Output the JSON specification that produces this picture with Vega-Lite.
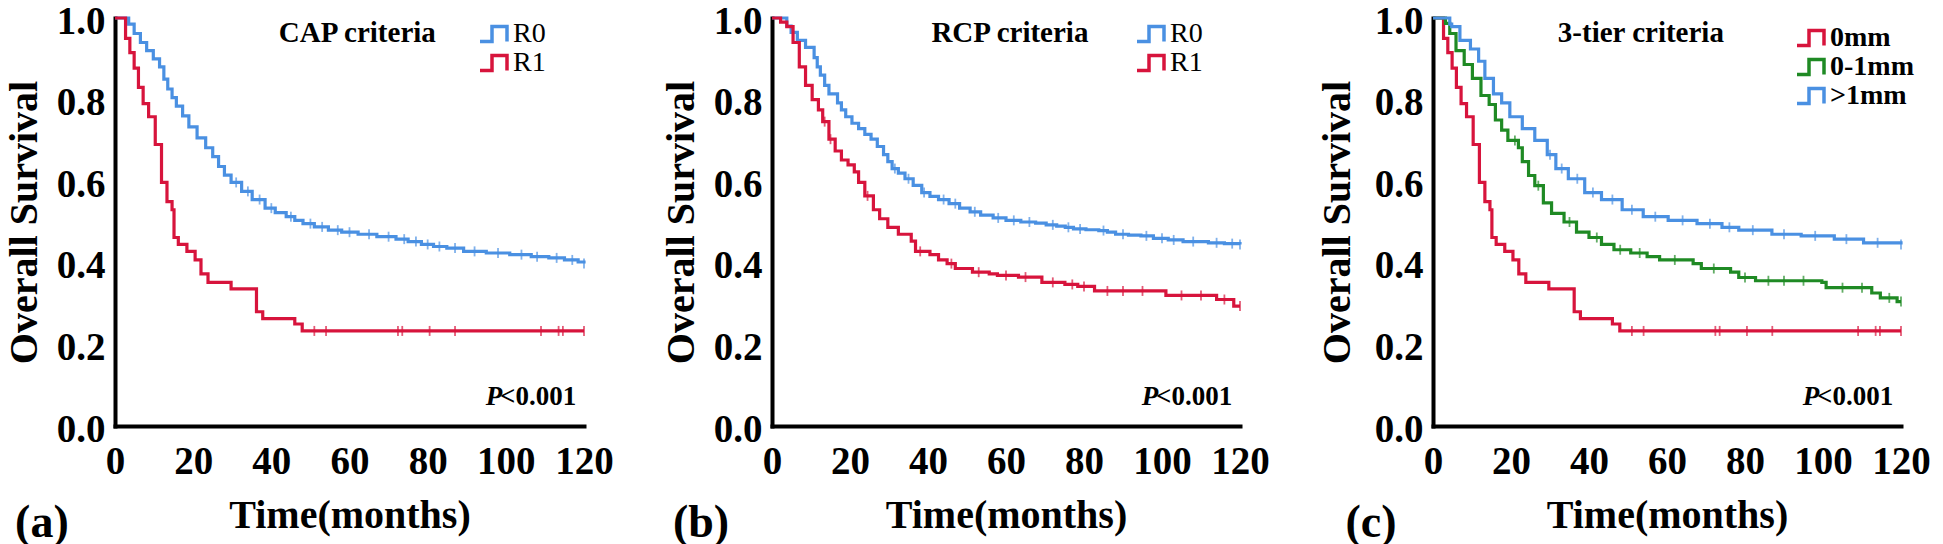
{
  "$schema": "https://vega.github.io/schema/vega-lite/v6.json",
  "background": "white",
  "padding": {"left": 4, "top": 2, "right": 0, "bottom": 0},
  "spacing": 47,
  "datasets": {
    "curves": [
      {"p":"a","g":"R0","t":0,"s":1.0},{"p":"a","g":"R0","t":3.5,"s":0.985},{"p":"a","g":"R0","t":4.9,"s":0.962},{"p":"a","g":"R0","t":6.5,"s":0.94},{"p":"a","g":"R0","t":8.1,"s":0.92},{"p":"a","g":"R0","t":9.8,"s":0.9},{"p":"a","g":"R0","t":11.4,"s":0.88},{"p":"a","g":"R0","t":12.5,"s":0.85},{"p":"a","g":"R0","t":13.5,"s":0.826},{"p":"a","g":"R0","t":14.6,"s":0.805},{"p":"a","g":"R0","t":15.7,"s":0.784},{"p":"a","g":"R0","t":17.3,"s":0.76},{"p":"a","g":"R0","t":18.9,"s":0.733},{"p":"a","g":"R0","t":21,"s":0.706},{"p":"a","g":"R0","t":23.2,"s":0.682},{"p":"a","g":"R0","t":25,"s":0.66},{"p":"a","g":"R0","t":26.5,"s":0.636},{"p":"a","g":"R0","t":28,"s":0.615},{"p":"a","g":"R0","t":29.7,"s":0.597},{"p":"a","g":"R0","t":32.4,"s":0.575},{"p":"a","g":"R0","t":35.1,"s":0.555},{"p":"a","g":"R0","t":38.4,"s":0.534},{"p":"a","g":"R0","t":41,"s":0.523},{"p":"a","g":"R0","t":43.8,"s":0.513},{"p":"a","g":"R0","t":46,"s":0.504},{"p":"a","g":"R0","t":48.1,"s":0.496},{"p":"a","g":"R0","t":51,"s":0.488},{"p":"a","g":"R0","t":54.6,"s":0.48},{"p":"a","g":"R0","t":58,"s":0.475},{"p":"a","g":"R0","t":62.2,"s":0.47},{"p":"a","g":"R0","t":67,"s":0.464},{"p":"a","g":"R0","t":71.9,"s":0.458},{"p":"a","g":"R0","t":75,"s":0.452},{"p":"a","g":"R0","t":78.4,"s":0.445},{"p":"a","g":"R0","t":81.5,"s":0.44},{"p":"a","g":"R0","t":84.9,"s":0.436},{"p":"a","g":"R0","t":89.2,"s":0.428},{"p":"a","g":"R0","t":95,"s":0.424},{"p":"a","g":"R0","t":101,"s":0.42},{"p":"a","g":"R0","t":106.5,"s":0.415},{"p":"a","g":"R0","t":111,"s":0.412},{"p":"a","g":"R0","t":115,"s":0.407},{"p":"a","g":"R0","t":118.5,"s":0.402},{"p":"a","g":"R0","t":120,"s":0.398},
      {"p":"a","g":"R1","t":0,"s":1.0},{"p":"a","g":"R1","t":2.7,"s":0.95},{"p":"a","g":"R1","t":3.8,"s":0.915},{"p":"a","g":"R1","t":4.9,"s":0.877},{"p":"a","g":"R1","t":6,"s":0.83},{"p":"a","g":"R1","t":7.2,"s":0.79},{"p":"a","g":"R1","t":8.6,"s":0.758},{"p":"a","g":"R1","t":10.3,"s":0.69},{"p":"a","g":"R1","t":11.9,"s":0.597},{"p":"a","g":"R1","t":13.3,"s":0.55},{"p":"a","g":"R1","t":14.6,"s":0.53},{"p":"a","g":"R1","t":15.1,"s":0.462},{"p":"a","g":"R1","t":16.2,"s":0.445},{"p":"a","g":"R1","t":18.4,"s":0.428},{"p":"a","g":"R1","t":20.5,"s":0.407},{"p":"a","g":"R1","t":22,"s":0.373},{"p":"a","g":"R1","t":23.8,"s":0.352},{"p":"a","g":"R1","t":29.7,"s":0.336},{"p":"a","g":"R1","t":36.2,"s":0.28},{"p":"a","g":"R1","t":37.8,"s":0.263},{"p":"a","g":"R1","t":46,"s":0.25},{"p":"a","g":"R1","t":47.9,"s":0.233},{"p":"a","g":"R1","t":120,"s":0.233},
      {"p":"b","g":"R0","t":0,"s":1.0},{"p":"b","g":"R0","t":3.8,"s":0.98},{"p":"b","g":"R0","t":4.9,"s":0.965},{"p":"b","g":"R0","t":6.5,"s":0.945},{"p":"b","g":"R0","t":8.6,"s":0.928},{"p":"b","g":"R0","t":10.8,"s":0.903},{"p":"b","g":"R0","t":11.6,"s":0.88},{"p":"b","g":"R0","t":12.4,"s":0.86},{"p":"b","g":"R0","t":13.5,"s":0.835},{"p":"b","g":"R0","t":14.6,"s":0.814},{"p":"b","g":"R0","t":16.8,"s":0.792},{"p":"b","g":"R0","t":17.8,"s":0.775},{"p":"b","g":"R0","t":18.9,"s":0.758},{"p":"b","g":"R0","t":20.5,"s":0.742},{"p":"b","g":"R0","t":22.2,"s":0.729},{"p":"b","g":"R0","t":23.8,"s":0.715},{"p":"b","g":"R0","t":25.4,"s":0.703},{"p":"b","g":"R0","t":27,"s":0.685},{"p":"b","g":"R0","t":28.6,"s":0.665},{"p":"b","g":"R0","t":29.7,"s":0.648},{"p":"b","g":"R0","t":30.8,"s":0.631},{"p":"b","g":"R0","t":32.4,"s":0.62},{"p":"b","g":"R0","t":34.1,"s":0.606},{"p":"b","g":"R0","t":36.2,"s":0.59},{"p":"b","g":"R0","t":38.4,"s":0.572},{"p":"b","g":"R0","t":40.5,"s":0.563},{"p":"b","g":"R0","t":42.7,"s":0.555},{"p":"b","g":"R0","t":45.4,"s":0.545},{"p":"b","g":"R0","t":48.1,"s":0.534},{"p":"b","g":"R0","t":50.8,"s":0.525},{"p":"b","g":"R0","t":53.5,"s":0.517},{"p":"b","g":"R0","t":56.7,"s":0.51},{"p":"b","g":"R0","t":60,"s":0.504},{"p":"b","g":"R0","t":63.8,"s":0.5},{"p":"b","g":"R0","t":67.6,"s":0.497},{"p":"b","g":"R0","t":70.3,"s":0.493},{"p":"b","g":"R0","t":73,"s":0.49},{"p":"b","g":"R0","t":75.2,"s":0.487},{"p":"b","g":"R0","t":77.3,"s":0.483},{"p":"b","g":"R0","t":80.5,"s":0.481},{"p":"b","g":"R0","t":83.8,"s":0.479},{"p":"b","g":"R0","t":86,"s":0.475},{"p":"b","g":"R0","t":88.1,"s":0.47},{"p":"b","g":"R0","t":91.4,"s":0.468},{"p":"b","g":"R0","t":94.6,"s":0.466},{"p":"b","g":"R0","t":97.8,"s":0.46},{"p":"b","g":"R0","t":101.6,"s":0.456},{"p":"b","g":"R0","t":105.4,"s":0.452},{"p":"b","g":"R0","t":111.9,"s":0.449},{"p":"b","g":"R0","t":116,"s":0.447},{"p":"b","g":"R0","t":120,"s":0.445},
      {"p":"b","g":"R1","t":0,"s":1.0},{"p":"b","g":"R1","t":2.2,"s":0.99},{"p":"b","g":"R1","t":3.8,"s":0.979},{"p":"b","g":"R1","t":5.4,"s":0.94},{"p":"b","g":"R1","t":7,"s":0.88},{"p":"b","g":"R1","t":8.6,"s":0.835},{"p":"b","g":"R1","t":10.3,"s":0.8},{"p":"b","g":"R1","t":11.9,"s":0.775},{"p":"b","g":"R1","t":13,"s":0.746},{"p":"b","g":"R1","t":14.6,"s":0.703},{"p":"b","g":"R1","t":16.2,"s":0.674},{"p":"b","g":"R1","t":17.8,"s":0.652},{"p":"b","g":"R1","t":19.5,"s":0.64},{"p":"b","g":"R1","t":21.1,"s":0.623},{"p":"b","g":"R1","t":22.2,"s":0.597},{"p":"b","g":"R1","t":23.8,"s":0.564},{"p":"b","g":"R1","t":26,"s":0.53},{"p":"b","g":"R1","t":27.6,"s":0.508},{"p":"b","g":"R1","t":29.7,"s":0.487},{"p":"b","g":"R1","t":32.4,"s":0.47},{"p":"b","g":"R1","t":35.7,"s":0.453},{"p":"b","g":"R1","t":36.8,"s":0.428},{"p":"b","g":"R1","t":40.5,"s":0.42},{"p":"b","g":"R1","t":42.7,"s":0.407},{"p":"b","g":"R1","t":44.9,"s":0.398},{"p":"b","g":"R1","t":47,"s":0.386},{"p":"b","g":"R1","t":51.4,"s":0.377},{"p":"b","g":"R1","t":55.7,"s":0.373},{"p":"b","g":"R1","t":57.8,"s":0.369},{"p":"b","g":"R1","t":63.2,"s":0.365},{"p":"b","g":"R1","t":69.2,"s":0.352},{"p":"b","g":"R1","t":75.1,"s":0.347},{"p":"b","g":"R1","t":78.4,"s":0.342},{"p":"b","g":"R1","t":82.7,"s":0.331},{"p":"b","g":"R1","t":101,"s":0.32},{"p":"b","g":"R1","t":114,"s":0.31},{"p":"b","g":"R1","t":118.4,"s":0.294},{"p":"b","g":"R1","t":120,"s":0.294},
      {"p":"c","g":"0mm","t":0,"s":1.0},{"p":"c","g":"0mm","t":2.7,"s":0.95},{"p":"c","g":"0mm","t":3.8,"s":0.915},{"p":"c","g":"0mm","t":4.9,"s":0.877},{"p":"c","g":"0mm","t":6,"s":0.83},{"p":"c","g":"0mm","t":7.2,"s":0.79},{"p":"c","g":"0mm","t":8.6,"s":0.758},{"p":"c","g":"0mm","t":10.3,"s":0.69},{"p":"c","g":"0mm","t":11.9,"s":0.597},{"p":"c","g":"0mm","t":13.3,"s":0.55},{"p":"c","g":"0mm","t":14.6,"s":0.53},{"p":"c","g":"0mm","t":15.1,"s":0.462},{"p":"c","g":"0mm","t":16.2,"s":0.445},{"p":"c","g":"0mm","t":18.4,"s":0.428},{"p":"c","g":"0mm","t":20.5,"s":0.407},{"p":"c","g":"0mm","t":22,"s":0.373},{"p":"c","g":"0mm","t":23.8,"s":0.352},{"p":"c","g":"0mm","t":29.7,"s":0.336},{"p":"c","g":"0mm","t":36.2,"s":0.28},{"p":"c","g":"0mm","t":37.8,"s":0.263},{"p":"c","g":"0mm","t":46,"s":0.25},{"p":"c","g":"0mm","t":47.9,"s":0.233},{"p":"c","g":"0mm","t":120,"s":0.233},
      {"p":"c","g":"0-1mm","t":0,"s":1.0},{"p":"c","g":"0-1mm","t":3.2,"s":0.987},{"p":"c","g":"0-1mm","t":4.3,"s":0.962},{"p":"c","g":"0-1mm","t":5.9,"s":0.92},{"p":"c","g":"0-1mm","t":8,"s":0.886},{"p":"c","g":"0-1mm","t":10.1,"s":0.852},{"p":"c","g":"0-1mm","t":12.3,"s":0.81},{"p":"c","g":"0-1mm","t":14.4,"s":0.788},{"p":"c","g":"0-1mm","t":16,"s":0.75},{"p":"c","g":"0-1mm","t":17.6,"s":0.725},{"p":"c","g":"0-1mm","t":19.2,"s":0.7},{"p":"c","g":"0-1mm","t":21.9,"s":0.682},{"p":"c","g":"0-1mm","t":22.9,"s":0.648},{"p":"c","g":"0-1mm","t":24.5,"s":0.614},{"p":"c","g":"0-1mm","t":26.1,"s":0.589},{"p":"c","g":"0-1mm","t":28.3,"s":0.547},{"p":"c","g":"0-1mm","t":30.4,"s":0.521},{"p":"c","g":"0-1mm","t":33.6,"s":0.5},{"p":"c","g":"0-1mm","t":36.8,"s":0.475},{"p":"c","g":"0-1mm","t":40,"s":0.462},{"p":"c","g":"0-1mm","t":43.2,"s":0.445},{"p":"c","g":"0-1mm","t":46.4,"s":0.432},{"p":"c","g":"0-1mm","t":50.7,"s":0.424},{"p":"c","g":"0-1mm","t":54.9,"s":0.415},{"p":"c","g":"0-1mm","t":58.1,"s":0.407},{"p":"c","g":"0-1mm","t":66.7,"s":0.398},{"p":"c","g":"0-1mm","t":68.8,"s":0.386},{"p":"c","g":"0-1mm","t":76.3,"s":0.377},{"p":"c","g":"0-1mm","t":78.4,"s":0.364},{"p":"c","g":"0-1mm","t":82.7,"s":0.356},{"p":"c","g":"0-1mm","t":99.7,"s":0.352},{"p":"c","g":"0-1mm","t":100.8,"s":0.339},{"p":"c","g":"0-1mm","t":112.5,"s":0.326},{"p":"c","g":"0-1mm","t":114.7,"s":0.314},{"p":"c","g":"0-1mm","t":119,"s":0.305},{"p":"c","g":"0-1mm","t":120,"s":0.305},
      {"p":"c","g":">1mm","t":0,"s":1.0},{"p":"c","g":">1mm","t":4.3,"s":0.985},{"p":"c","g":">1mm","t":4.8,"s":0.979},{"p":"c","g":">1mm","t":6.9,"s":0.945},{"p":"c","g":">1mm","t":9.6,"s":0.924},{"p":"c","g":">1mm","t":11.7,"s":0.894},{"p":"c","g":">1mm","t":13.3,"s":0.852},{"p":"c","g":">1mm","t":15.5,"s":0.814},{"p":"c","g":">1mm","t":17.6,"s":0.792},{"p":"c","g":">1mm","t":19.7,"s":0.758},{"p":"c","g":">1mm","t":22.9,"s":0.729},{"p":"c","g":">1mm","t":26.1,"s":0.7},{"p":"c","g":">1mm","t":29.3,"s":0.665},{"p":"c","g":">1mm","t":31.5,"s":0.631},{"p":"c","g":">1mm","t":34.7,"s":0.606},{"p":"c","g":">1mm","t":38.9,"s":0.572},{"p":"c","g":">1mm","t":43.2,"s":0.555},{"p":"c","g":">1mm","t":48.5,"s":0.53},{"p":"c","g":">1mm","t":53.9,"s":0.513},{"p":"c","g":">1mm","t":60.3,"s":0.504},{"p":"c","g":">1mm","t":67.7,"s":0.496},{"p":"c","g":">1mm","t":74.1,"s":0.487},{"p":"c","g":">1mm","t":78.4,"s":0.48},{"p":"c","g":">1mm","t":86.9,"s":0.47},{"p":"c","g":">1mm","t":94.4,"s":0.466},{"p":"c","g":">1mm","t":102.9,"s":0.458},{"p":"c","g":">1mm","t":110.4,"s":0.449},{"p":"c","g":">1mm","t":120,"s":0.445}
    ],
    "censor": [
      {"p":"a","g":"R1","t":51,"s":0.233},{"p":"a","g":"R1","t":54,"s":0.233},{"p":"a","g":"R1","t":72.4,"s":0.233},{"p":"a","g":"R1","t":73.5,"s":0.233},{"p":"a","g":"R1","t":80.5,"s":0.233},{"p":"a","g":"R1","t":87,"s":0.233},{"p":"a","g":"R1","t":109,"s":0.233},{"p":"a","g":"R1","t":113.5,"s":0.233},{"p":"a","g":"R1","t":114.6,"s":0.233},{"p":"a","g":"R1","t":120,"s":0.233},
      {"p":"a","g":"R0","t":31,"s":0.597},{"p":"a","g":"R0","t":34,"s":0.575},{"p":"a","g":"R0","t":37,"s":0.555},{"p":"a","g":"R0","t":40,"s":0.534},{"p":"a","g":"R0","t":45,"s":0.513},{"p":"a","g":"R0","t":50,"s":0.496},{"p":"a","g":"R0","t":53,"s":0.488},{"p":"a","g":"R0","t":57,"s":0.48},{"p":"a","g":"R0","t":60,"s":0.475},{"p":"a","g":"R0","t":65,"s":0.47},{"p":"a","g":"R0","t":70,"s":0.464},{"p":"a","g":"R0","t":74,"s":0.458},{"p":"a","g":"R0","t":77,"s":0.452},{"p":"a","g":"R0","t":80,"s":0.445},{"p":"a","g":"R0","t":83,"s":0.44},{"p":"a","g":"R0","t":87,"s":0.436},{"p":"a","g":"R0","t":92,"s":0.428},{"p":"a","g":"R0","t":98,"s":0.424},{"p":"a","g":"R0","t":104,"s":0.42},{"p":"a","g":"R0","t":108,"s":0.415},{"p":"a","g":"R0","t":113,"s":0.412},{"p":"a","g":"R0","t":117,"s":0.407},{"p":"a","g":"R0","t":120,"s":0.398},
      {"p":"b","g":"R0","t":31.5,"s":0.631},{"p":"b","g":"R0","t":35,"s":0.606},{"p":"b","g":"R0","t":39,"s":0.572},{"p":"b","g":"R0","t":44,"s":0.555},{"p":"b","g":"R0","t":47,"s":0.545},{"p":"b","g":"R0","t":52,"s":0.525},{"p":"b","g":"R0","t":58,"s":0.51},{"p":"b","g":"R0","t":62,"s":0.504},{"p":"b","g":"R0","t":66,"s":0.5},{"p":"b","g":"R0","t":72,"s":0.493},{"p":"b","g":"R0","t":76,"s":0.487},{"p":"b","g":"R0","t":79,"s":0.483},{"p":"b","g":"R0","t":85,"s":0.479},{"p":"b","g":"R0","t":90,"s":0.47},{"p":"b","g":"R0","t":96,"s":0.466},{"p":"b","g":"R0","t":100,"s":0.46},{"p":"b","g":"R0","t":103,"s":0.456},{"p":"b","g":"R0","t":108,"s":0.452},{"p":"b","g":"R0","t":114,"s":0.449},{"p":"b","g":"R0","t":118,"s":0.447},{"p":"b","g":"R0","t":120,"s":0.445},
      {"p":"b","g":"R1","t":13.5,"s":0.746},{"p":"b","g":"R1","t":15,"s":0.703},{"p":"b","g":"R1","t":24.5,"s":0.564},{"p":"b","g":"R1","t":38,"s":0.428},{"p":"b","g":"R1","t":46,"s":0.398},{"p":"b","g":"R1","t":53,"s":0.377},{"p":"b","g":"R1","t":60,"s":0.369},{"p":"b","g":"R1","t":65,"s":0.365},{"p":"b","g":"R1","t":72,"s":0.352},{"p":"b","g":"R1","t":77,"s":0.347},{"p":"b","g":"R1","t":80,"s":0.342},{"p":"b","g":"R1","t":86,"s":0.331},{"p":"b","g":"R1","t":90,"s":0.331},{"p":"b","g":"R1","t":95,"s":0.331},{"p":"b","g":"R1","t":105,"s":0.32},{"p":"b","g":"R1","t":110,"s":0.32},{"p":"b","g":"R1","t":116,"s":0.31},{"p":"b","g":"R1","t":120,"s":0.294},
      {"p":"c","g":"0mm","t":51,"s":0.233},{"p":"c","g":"0mm","t":54,"s":0.233},{"p":"c","g":"0mm","t":72.4,"s":0.233},{"p":"c","g":"0mm","t":73.5,"s":0.233},{"p":"c","g":"0mm","t":80.5,"s":0.233},{"p":"c","g":"0mm","t":87,"s":0.233},{"p":"c","g":"0mm","t":109,"s":0.233},{"p":"c","g":"0mm","t":113.5,"s":0.233},{"p":"c","g":"0mm","t":114.6,"s":0.233},{"p":"c","g":"0mm","t":120,"s":0.233},
      {"p":"c","g":"0-1mm","t":21,"s":0.7},{"p":"c","g":"0-1mm","t":27,"s":0.589},{"p":"c","g":"0-1mm","t":35,"s":0.5},{"p":"c","g":"0-1mm","t":42,"s":0.462},{"p":"c","g":"0-1mm","t":48,"s":0.432},{"p":"c","g":"0-1mm","t":53,"s":0.424},{"p":"c","g":"0-1mm","t":62,"s":0.407},{"p":"c","g":"0-1mm","t":72,"s":0.386},{"p":"c","g":"0-1mm","t":80,"s":0.364},{"p":"c","g":"0-1mm","t":86,"s":0.356},{"p":"c","g":"0-1mm","t":90,"s":0.356},{"p":"c","g":"0-1mm","t":95,"s":0.356},{"p":"c","g":"0-1mm","t":105,"s":0.339},{"p":"c","g":"0-1mm","t":110,"s":0.339},{"p":"c","g":"0-1mm","t":117,"s":0.314},{"p":"c","g":"0-1mm","t":120,"s":0.305},
      {"p":"c","g":">1mm","t":30,"s":0.665},{"p":"c","g":">1mm","t":33,"s":0.631},{"p":"c","g":">1mm","t":37,"s":0.606},{"p":"c","g":">1mm","t":41,"s":0.572},{"p":"c","g":">1mm","t":46,"s":0.555},{"p":"c","g":">1mm","t":51,"s":0.53},{"p":"c","g":">1mm","t":57,"s":0.513},{"p":"c","g":">1mm","t":64,"s":0.504},{"p":"c","g":">1mm","t":71,"s":0.496},{"p":"c","g":">1mm","t":76,"s":0.487},{"p":"c","g":">1mm","t":82,"s":0.48},{"p":"c","g":">1mm","t":90,"s":0.47},{"p":"c","g":">1mm","t":98,"s":0.466},{"p":"c","g":">1mm","t":106,"s":0.458},{"p":"c","g":">1mm","t":114,"s":0.449},{"p":"c","g":">1mm","t":120,"s":0.445}
    ]
  },
  "hconcat": [
    {
      "width": 469, "height": 408,
      "layer": [
        {
          "data": {"name": "curves"},
          "transform": [{"filter": "datum.p === 'a'"}],
          "mark": {"type": "line", "interpolate": "step-after", "strokeWidth": 3.2},
          "encoding": {
            "x": {"field": "t", "type": "quantitative", "scale": {"domain": [0, 120], "nice": false}, "axis": {"values": [0, 20, 40, 60, 80, 100, 120], "title": "Time(months)"}},
            "y": {"field": "s", "type": "quantitative", "scale": {"domain": [0, 1], "nice": false}, "axis": {"values": [0, 0.2, 0.4, 0.6, 0.8, 1], "format": ".1f", "title": "Overall Survival"}},
            "color": {"field": "g", "type": "nominal", "scale": {"domain": ["R0", "R1"], "range": ["#4a90e2", "#d7143c"]}, "legend": {"orient": "none", "legendX": 366, "legendY": 2, "symbolType": "M-1.5,0.75H-0.3V-0.75H1.2V0.75", "symbolSize": 400, "symbolStrokeWidth": 3.5, "symbolFillColor": "transparent"}}
          }
        },
        {"data": {"name": "censor"}, "transform": [{"filter": "datum.p === 'a' && datum.g === 'R0'"}], "mark": {"type": "tick", "orient": "vertical", "size": 10, "thickness": 1.8, "color": "#4a90e2"}, "encoding": {"x": {"field": "t", "type": "quantitative"}, "y": {"field": "s", "type": "quantitative"}}},
        {"data": {"name": "censor"}, "transform": [{"filter": "datum.p === 'a' && datum.g === 'R1'"}], "mark": {"type": "tick", "orient": "vertical", "size": 10, "thickness": 1.8, "color": "#d7143c"}, "encoding": {"x": {"field": "t", "type": "quantitative"}, "y": {"field": "s", "type": "quantitative"}}},
        {"data": {"values": [{}]}, "mark": {"type": "text", "font": "Liberation Serif", "fontWeight": "bold", "fontSize": 29, "align": "center", "baseline": "alphabetic", "color": "black"}, "encoding": {"x": {"datum": 62}, "y": {"datum": 0.94}, "text": {"value": "CAP criteria"}}},
        {"data": {"values": [{}]}, "mark": {"type": "text", "font": "Liberation Serif", "fontWeight": "bold", "fontSize": 27, "align": "right", "baseline": "alphabetic", "color": "black"}, "encoding": {"x": {"datum": 118}, "y": {"datum": 0.051}, "text": {"value": "<0.001"}}},
        {"data": {"values": [{}]}, "mark": {"type": "text", "font": "Liberation Serif", "fontWeight": "bold", "fontStyle": "italic", "fontSize": 27, "align": "right", "baseline": "alphabetic", "color": "black", "dx": -74}, "encoding": {"x": {"datum": 118}, "y": {"datum": 0.051}, "text": {"value": "P"}}},
        {"data": {"values": [{}]}, "mark": {"type": "text", "font": "Liberation Serif", "fontWeight": "bold", "fontSize": 46, "align": "center", "baseline": "alphabetic", "color": "black"}, "encoding": {"x": {"datum": -18.7}, "y": {"datum": -0.272}, "text": {"value": "(a)"}}}
      ]
    },
    {
      "width": 468, "height": 408,
      "layer": [
        {
          "data": {"name": "curves"},
          "transform": [{"filter": "datum.p === 'b'"}],
          "mark": {"type": "line", "interpolate": "step-after", "strokeWidth": 3.2},
          "encoding": {
            "x": {"field": "t", "type": "quantitative", "scale": {"domain": [0, 120], "nice": false}, "axis": {"values": [0, 20, 40, 60, 80, 100, 120], "title": "Time(months)"}},
            "y": {"field": "s", "type": "quantitative", "scale": {"domain": [0, 1], "nice": false}, "axis": {"values": [0, 0.2, 0.4, 0.6, 0.8, 1], "format": ".1f", "title": "Overall Survival"}},
            "color": {"field": "g", "type": "nominal", "scale": {"domain": ["R0", "R1"], "range": ["#4a90e2", "#d7143c"]}, "legend": {"orient": "none", "legendX": 366, "legendY": 2, "symbolType": "M-1.5,0.75H-0.3V-0.75H1.2V0.75", "symbolSize": 400, "symbolStrokeWidth": 3.5, "symbolFillColor": "transparent"}}
          }
        },
        {"data": {"name": "censor"}, "transform": [{"filter": "datum.p === 'b' && datum.g === 'R0'"}], "mark": {"type": "tick", "orient": "vertical", "size": 10, "thickness": 1.8, "color": "#4a90e2"}, "encoding": {"x": {"field": "t", "type": "quantitative"}, "y": {"field": "s", "type": "quantitative"}}},
        {"data": {"name": "censor"}, "transform": [{"filter": "datum.p === 'b' && datum.g === 'R1'"}], "mark": {"type": "tick", "orient": "vertical", "size": 10, "thickness": 1.8, "color": "#d7143c"}, "encoding": {"x": {"field": "t", "type": "quantitative"}, "y": {"field": "s", "type": "quantitative"}}},
        {"data": {"values": [{}]}, "mark": {"type": "text", "font": "Liberation Serif", "fontWeight": "bold", "fontSize": 29, "align": "center", "baseline": "alphabetic", "color": "black"}, "encoding": {"x": {"datum": 61}, "y": {"datum": 0.94}, "text": {"value": "RCP criteria"}}},
        {"data": {"values": [{}]}, "mark": {"type": "text", "font": "Liberation Serif", "fontWeight": "bold", "fontSize": 27, "align": "right", "baseline": "alphabetic", "color": "black"}, "encoding": {"x": {"datum": 118}, "y": {"datum": 0.051}, "text": {"value": "<0.001"}}},
        {"data": {"values": [{}]}, "mark": {"type": "text", "font": "Liberation Serif", "fontWeight": "bold", "fontStyle": "italic", "fontSize": 27, "align": "right", "baseline": "alphabetic", "color": "black", "dx": -74}, "encoding": {"x": {"datum": 118}, "y": {"datum": 0.051}, "text": {"value": "P"}}},
        {"data": {"values": [{}]}, "mark": {"type": "text", "font": "Liberation Serif", "fontWeight": "bold", "fontSize": 46, "align": "center", "baseline": "alphabetic", "color": "black"}, "encoding": {"x": {"datum": -18.2}, "y": {"datum": -0.272}, "text": {"value": "(b)"}}}
      ]
    },
    {
      "width": 468, "height": 408,
      "layer": [
        {
          "data": {"name": "curves"},
          "transform": [{"filter": "datum.p === 'c'"}],
          "mark": {"type": "line", "interpolate": "step-after", "strokeWidth": 3.2},
          "encoding": {
            "x": {"field": "t", "type": "quantitative", "scale": {"domain": [0, 120], "nice": false}, "axis": {"values": [0, 20, 40, 60, 80, 100, 120], "title": "Time(months)"}},
            "y": {"field": "s", "type": "quantitative", "scale": {"domain": [0, 1], "nice": false}, "axis": {"values": [0, 0.2, 0.4, 0.6, 0.8, 1], "format": ".1f", "title": "Overall Survival", "titlePadding": 17}},
            "color": {"field": "g", "type": "nominal", "scale": {"domain": ["0mm", "0-1mm", ">1mm"], "range": ["#d7143c", "#1f8a24", "#4a90e2"]}, "legend": {"orient": "none", "legendX": 365, "legendY": 6, "symbolType": "M-1.5,0.75H-0.3V-0.75H1.2V0.75", "symbolSize": 400, "symbolStrokeWidth": 3.5, "symbolFillColor": "transparent", "labelFontWeight": "bold"}}
          }
        },
        {"data": {"name": "censor"}, "transform": [{"filter": "datum.p === 'c' && datum.g === '>1mm'"}], "mark": {"type": "tick", "orient": "vertical", "size": 10, "thickness": 1.8, "color": "#4a90e2"}, "encoding": {"x": {"field": "t", "type": "quantitative"}, "y": {"field": "s", "type": "quantitative"}}},
        {"data": {"name": "censor"}, "transform": [{"filter": "datum.p === 'c' && datum.g === '0-1mm'"}], "mark": {"type": "tick", "orient": "vertical", "size": 10, "thickness": 1.8, "color": "#1f8a24"}, "encoding": {"x": {"field": "t", "type": "quantitative"}, "y": {"field": "s", "type": "quantitative"}}},
        {"data": {"name": "censor"}, "transform": [{"filter": "datum.p === 'c' && datum.g === '0mm'"}], "mark": {"type": "tick", "orient": "vertical", "size": 10, "thickness": 1.8, "color": "#d7143c"}, "encoding": {"x": {"field": "t", "type": "quantitative"}, "y": {"field": "s", "type": "quantitative"}}},
        {"data": {"values": [{}]}, "mark": {"type": "text", "font": "Liberation Serif", "fontWeight": "bold", "fontSize": 29, "align": "center", "baseline": "alphabetic", "color": "black"}, "encoding": {"x": {"datum": 53.3}, "y": {"datum": 0.94}, "text": {"value": "3-tier criteria"}}},
        {"data": {"values": [{}]}, "mark": {"type": "text", "font": "Liberation Serif", "fontWeight": "bold", "fontSize": 27, "align": "right", "baseline": "alphabetic", "color": "black"}, "encoding": {"x": {"datum": 118}, "y": {"datum": 0.051}, "text": {"value": "<0.001"}}},
        {"data": {"values": [{}]}, "mark": {"type": "text", "font": "Liberation Serif", "fontWeight": "bold", "fontStyle": "italic", "fontSize": 27, "align": "right", "baseline": "alphabetic", "color": "black", "dx": -74}, "encoding": {"x": {"datum": 118}, "y": {"datum": 0.051}, "text": {"value": "P"}}},
        {"data": {"values": [{}]}, "mark": {"type": "text", "font": "Liberation Serif", "fontWeight": "bold", "fontSize": 46, "align": "center", "baseline": "alphabetic", "color": "black"}, "encoding": {"x": {"datum": -15.9}, "y": {"datum": -0.272}, "text": {"value": "(c)"}}}
      ]
    }
  ],
  "resolve": {"scale": {"color": "independent", "x": "independent", "y": "independent"}, "legend": {"color": "independent"}},
  "config": {
    "view": {"stroke": null},
    "axis": {"domainColor": "#000000", "domainWidth": 4, "domainCap": "square", "ticks": false, "grid": false, "labelFont": "Liberation Serif", "labelFontWeight": "bold", "labelFontSize": 39, "labelColor": "#000000", "labelFlush": false, "labelOverlap": false, "labelBound": false, "titleFont": "Liberation Serif", "titleFontWeight": "bold", "titleFontSize": 40, "titleColor": "#000000"},
    "axisX": {"labelPadding": 16, "titlePadding": 14},
    "axisY": {"labelPadding": 10, "titlePadding": 12, "labelOffset": 3},
    "legend": {"title": null, "labelFont": "Liberation Serif", "labelFontSize": 28, "labelFontWeight": "normal", "labelColor": "#000000", "rowPadding": -3, "labelOffset": 4, "padding": 0}
  }
}
